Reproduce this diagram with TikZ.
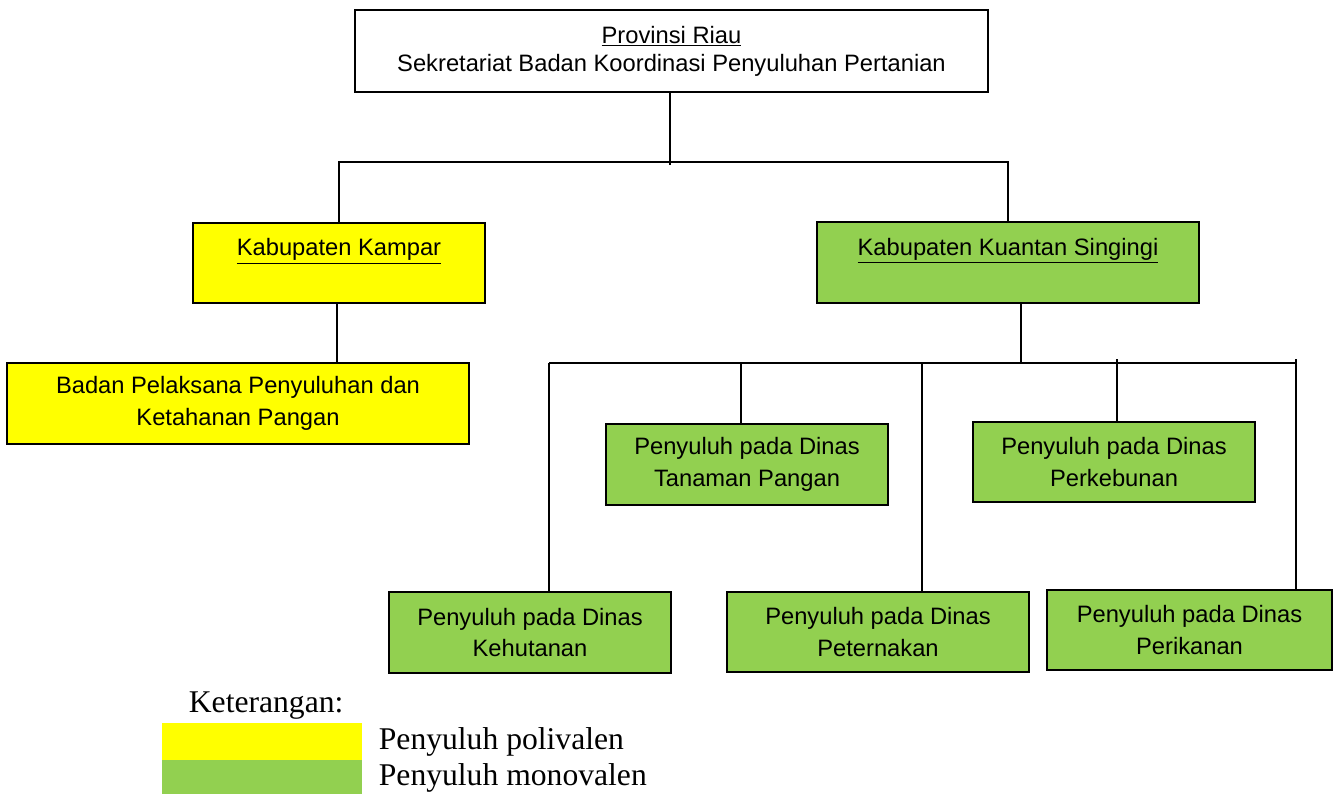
\documentclass[tikz,border=0pt]{standalone}
\usepackage{fontspec}
\setmainfont{Liberation Sans}
\newfontfamily\legendfont{Liberation Serif}
\usepackage{tikz}
\usetikzlibrary{positioning}

\definecolor{kuning}{HTML}{FFFF00}
\definecolor{hijau}{HTML}{92D050}

\tikzset{
  unit/.style={draw,line width=1pt,align=center,inner sep=2pt,
    font=\fontsize{13.5}{18}\selectfont},
  legbox/.style={inner sep=0pt,minimum width=4cm,minimum height=0.72cm},
  legtext/.style={font=\legendfont\fontsize{18}{22}\selectfont,inner sep=0pt}
}

\begin{document}
\begin{tikzpicture}[x=0.02cm,y=-0.02cm,line width=1pt]
\useasboundingbox (0,0) rectangle (1334,794);

\node[unit,minimum width=12.66cm,minimum height=1.64cm,font=\fontsize{13.5}{16}\selectfont] (prov) at (671.5,51) {\underline{Provinsi Riau}\\Sekretariat Badan Koordinasi Penyuluhan Pertanian};
\node[unit,fill=kuning,minimum width=5.84cm,minimum height=1.6cm] (kampar) at (339,263) {\underline{Kabupaten Kampar}\\ \mbox{}};
\node[unit,fill=hijau,minimum width=7.64cm,minimum height=1.62cm] (kuansing) at (1008,262.5) {\underline{Kabupaten Kuantan Singingi}\\ \mbox{}};
\node[unit,fill=kuning,minimum width=9.24cm,minimum height=1.62cm] (bappk) at (238,403.5) {Badan Pelaksana Penyuluhan dan\\Ketahanan Pangan};

\node[unit,fill=hijau,minimum width=5.64cm,minimum height=1.62cm] (tanaman) at (747,464.5) {Penyuluh pada Dinas\\Tanaman Pangan};
\node[unit,fill=hijau,minimum width=5.64cm,minimum height=1.6cm] (kebun) at (1114,462) {Penyuluh pada Dinas\\Perkebunan};
\node[unit,fill=hijau,minimum width=5.64cm,minimum height=1.62cm] (hutan) at (530,632.5) {Penyuluh pada Dinas\\Kehutanan};
\node[unit,fill=hijau,minimum width=6.04cm,minimum height=1.6cm] (ternak) at (878,632) {Penyuluh pada Dinas\\Peternakan};
\node[unit,fill=hijau,minimum width=5.7cm,minimum height=1.6cm] (ikan) at (1189.5,630) {Penyuluh pada Dinas\\Perikanan};

% province level
\coordinate (bus1) at (670,162);
\draw (prov.south -| bus1) -- ++(0,72);
\draw (kampar.north) |- (bus1) -| (kuansing.north);
\draw (kampar.south -| 337,0) -- (337,363);

% kuantan singingi branches
\coordinate (bus2) at (1021,363);
\coordinate (d1) at (549,363);
\coordinate (d2) at (741,363);
\coordinate (d3) at (922,363);
\coordinate (d4) at (1117,359);
\coordinate (d5) at (1296,359);
\draw (kuansing.south -| bus2) -- (bus2);
\draw (d1) -- (d5 |- bus2);
\draw (d1) -- (d1 |- hutan.north);
\draw (d2) -- (d2 |- tanaman.north);
\draw (d3) -- (d3 |- ternak.north);
\draw (d4) -- (d4 |- kebun.north);
\draw (d5) -- (d5 |- ikan.north);

% keterangan
\node[legtext,anchor=west] (ket) at (188,706) {Keterangan:};
\node[legbox,fill=kuning,minimum height=0.74cm] (lpoli) at (262,741.5) {};
\node[legbox,fill=hijau,minimum height=0.68cm] (lmono) at (262,777) {};
\node[legtext,anchor=west] (tpoli) at (378,742) {Penyuluh polivalen};
\node[legtext,anchor=west] (tmono) at (378,778) {Penyuluh monovalen};
\end{tikzpicture}
\end{document}
